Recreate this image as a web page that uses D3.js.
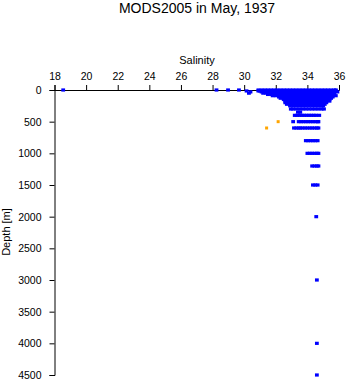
<!DOCTYPE html>
<html>
<head>
<meta charset="utf-8">
<script src="https://cdn.jsdelivr.net/npm/d3@7"></script>
<style>
  html, body { margin: 0; padding: 0; background: #fff; }
  svg { display: block; }
  text { font-family: "Liberation Sans", Arial, Helvetica, sans-serif; fill: #000; }
</style>
</head>
<body>
<svg id="chart" width="348" height="384"></svg>
<script>
// ---- data ----
const title = "MODS2005 in May, 1937";
const xLabel = "Salinity";
const yLabel = "Depth [m]";
const xTicks = [18, 20, 22, 24, 26, 28, 30, 32, 34, 36];
const yTicks = [0, 500, 1000, 1500, 2000, 2500, 3000, 3500, 4000, 4500];

// blue casts: depth levels and salinities observed at each level
const blueDepths = [0, 15, 30, 50, 70, 90, 110, 130, 150, 175, 200, 225, 250, 300, 350, 400, 500, 600, 800, 1000, 1200, 1500, 2000, 3000, 4000, 4500];
const blueSalinity = [
  [18.55, 28.25, 28.98, 29.67, 30.9, 31.1, 31.3, 31.5, 31.7, 31.9, 32.1, 32.3, 32.5, 32.7, 32.9, 33.1, 33.3, 33.5, 33.7, 33.9, 34.1, 34.3, 34.5, 34.7, 34.9, 35.1, 35.3, 35.5, 35.7, 35.8],
  [30.15, 30.9, 31.0, 31.2, 31.4, 31.6, 31.8, 32.0, 32.2, 32.4, 32.6, 32.8, 33.0, 33.2, 33.4, 33.6, 33.8, 34.0, 34.2, 34.4, 34.6, 34.8, 35.0, 35.2, 35.4, 35.6, 35.8],
  [30.4, 31.1, 31.3, 31.5, 31.7, 31.9, 32.1, 32.3, 32.5, 32.7, 32.9, 33.1, 33.3, 33.5, 33.7, 33.9, 34.1, 34.3, 34.5, 34.7, 34.9, 35.1, 35.3, 35.5, 35.7, 35.9],
  [30.3, 31.2, 31.4, 31.6, 31.8, 32.0, 32.2, 32.4, 32.6, 32.8, 33.0, 33.2, 33.4, 33.6, 33.8, 34.0, 34.2, 34.4, 34.6, 34.8, 35.0, 35.2, 35.4, 35.6, 35.7],
  [31.5, 31.7, 31.9, 32.1, 32.3, 32.5, 32.7, 32.9, 33.1, 33.3, 33.5, 33.7, 33.9, 34.1, 34.3, 34.5, 34.7, 34.9, 35.1, 35.3, 35.5, 35.7],
  [31.8, 32.0, 32.2, 32.4, 32.6, 32.8, 33.0, 33.2, 33.4, 33.6, 33.8, 34.0, 34.2, 34.4, 34.6, 34.8, 35.0, 35.2, 35.4, 35.6, 35.8],
  [32.2, 32.4, 32.6, 32.8, 33.0, 33.2, 33.4, 33.6, 33.8, 34.0, 34.2, 34.4, 34.6, 34.8, 35.0, 35.2, 35.4, 35.6],
  [32.3, 32.5, 32.7, 32.9, 33.1, 33.3, 33.5, 33.7, 33.9, 34.1, 34.3, 34.5, 34.7, 34.9, 35.1, 35.3, 35.5],
  [32.5, 32.7, 32.9, 33.1, 33.3, 33.5, 33.7, 33.9, 34.1, 34.3, 34.5, 34.7, 34.9, 35.1, 35.3, 35.4],
  [32.6, 32.8, 33.0, 33.2, 33.4, 33.6, 33.8, 34.0, 34.2, 34.4, 34.6, 34.8, 35.0, 35.2, 35.4],
  [32.6, 32.8, 33.0, 33.2, 33.4, 33.6, 33.8, 34.0, 34.2, 34.4, 34.6, 34.8, 35.0, 35.2],
  [32.7, 32.9, 33.1, 33.3, 33.5, 33.7, 33.9, 34.1, 34.3, 34.5, 34.7, 34.9, 35.1],
  [32.9, 33.1, 33.3, 33.5, 33.7, 33.9, 34.1, 34.3, 34.5, 34.7, 34.9, 35.0],
  [32.95, 33.1, 33.3, 33.5, 33.7, 33.9, 34.1, 34.3, 34.5, 34.7, 34.9, 35.05],
  [33.4, 33.55],
  [33.2, 33.35, 33.5, 33.65, 33.8, 33.95, 34.1, 34.25, 34.4, 34.55, 34.75],
  [33.1, 33.45, 33.6, 33.75, 33.9, 34.05, 34.2, 34.35, 34.5, 34.65, 34.7],
  [33.15, 33.3, 33.45, 33.55, 33.7, 33.85, 34.0, 34.15, 34.3, 34.45, 34.6, 34.7],
  [33.9, 34.05, 34.2, 34.35, 34.5, 34.65],
  [34.0, 34.15, 34.3, 34.45, 34.6, 34.7],
  [34.3, 34.45, 34.6, 34.7],
  [34.35, 34.5, 34.65],
  [34.56],
  [34.6],
  [34.6],
  [34.6]
];

// orange casts
const orangeDepths = [500, 600];
const orangeSalinity = [32.15, 31.42];

// ---- drawing ----
const svg = d3.select("#chart");
const x = d3.scaleLinear().domain([18, 36]).range([54.5, 339]);
const y = d3.scaleLinear().domain([0, 4500]).range([90, 375]);

svg.append("text")
  .attr("x", 197).attr("y", 13)
  .attr("text-anchor", "middle")
  .style("font-size", "14px")
  .text(title);

svg.append("text")
  .attr("x", 197).attr("y", 64)
  .attr("text-anchor", "middle")
  .style("font-size", "11px")
  .text(xLabel);

svg.append("text")
  .attr("transform", "translate(10,232) rotate(-90)")
  .attr("text-anchor", "middle")
  .style("font-size", "11px")
  .text(yLabel);

const xAxis = svg.append("g")
  .attr("transform", "translate(0,90)")
  .call(d3.axisTop(x).tickValues(xTicks).tickFormat(d3.format("d")).tickSize(5).tickPadding(5));
const yAxis = svg.append("g")
  .attr("transform", "translate(54.5,0)")
  .call(d3.axisLeft(y).tickValues(yTicks).tickFormat(d3.format("d")).tickSize(5).tickPadding(8));
[xAxis, yAxis].forEach(g => {
  g.selectAll("text").style("font-size", "10.5px").attr("font-family", null);
  g.selectAll("path,line").attr("stroke", "#000").attr("stroke-width", 1);
  g.attr("font-family", null);
});

const bluePoints = blueDepths.flatMap((d, i) => blueSalinity[i].map(s => ({ s, d })));
const orangePoints = orangeDepths.map((d, i) => ({ s: orangeSalinity[i], d }));

const w = 3.8, h = 3.2;
svg.append("g").selectAll("rect").data(bluePoints).join("rect")
  .attr("x", p => x(p.s) - w / 2)
  .attr("y", p => y(p.d) - h / 2)
  .attr("width", w).attr("height", h)
  .attr("fill", "#0000ff");

svg.append("g").selectAll("rect").data(orangePoints).join("rect")
  .attr("x", p => x(p.s) - 1.5)
  .attr("y", p => y(p.d) - 1.5)
  .attr("width", 3).attr("height", 3)
  .attr("fill", "#ffa500");
</script>
</body>
</html>
